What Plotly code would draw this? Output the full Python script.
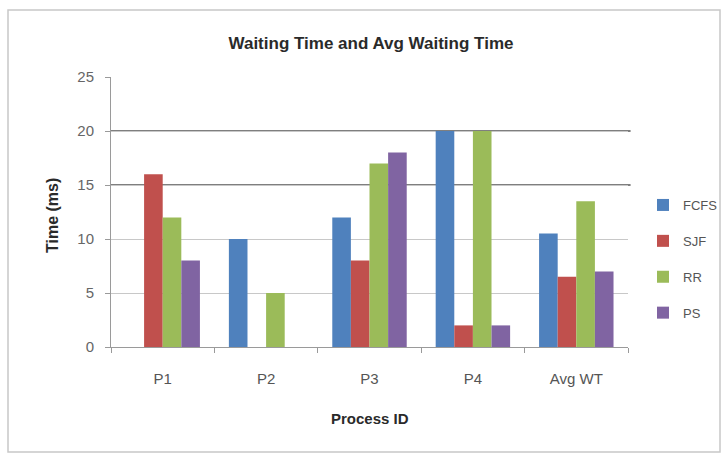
import plotly.graph_objects as go

categories = ["P1", "P2", "P3", "P4", "Avg WT"]
fcfs = [0, 10, 12, 20, 10.5]
sjf = [16, 0, 8, 2, 6.5]
rr = [12, 5, 17, 20, 13.5]
ps = [8, 0, 18, 2, 7]
series_names = ["FCFS", "SJF", "RR", "PS"]
colors = ["#4F81BD", "#C0504D", "#9BBB59", "#8064A2"]
y_ticks = [0, 5, 10, 15, 20, 25]

W, H = 726, 457
L, R, T, B = 111, 98, 77, 110
pw, ph = W - L - R, H - T - B

def px_x(x):
    return (x - L) / pw

def px_y(y):
    return (H - B - y) / ph

font_family = "Liberation Sans, Arial, sans-serif"

fig = go.Figure()
for name, vals, c in zip(series_names, [fcfs, sjf, rr, ps], colors):
    fig.add_trace(go.Bar(x=categories, y=vals, name=name, marker_color=c,
                         marker_line_width=0, legendgroup=name))

fig.update_layout(
    width=W, height=H,
    margin=dict(l=L, r=R, t=T, b=B, autoexpand=False),
    paper_bgcolor="white", plot_bgcolor="white",
    barmode="group", bargap=0.28, bargroupgap=0,
    font=dict(family=font_family, size=14, color="#444"),
    title=dict(text="<b>Waiting Time and Avg Waiting Time</b>",
               x=371 / W, xanchor="center", y=1 - 43 / H, yanchor="middle",
               font=dict(size=17, color="#2a2a2a", family=font_family)),
    legend=dict(x=px_x(643), xanchor="left", y=px_y(259), yanchor="middle",
                traceorder="grouped", tracegroupgap=16,
                font=dict(size=13, color="#555"), itemwidth=30,
                bgcolor="rgba(0,0,0,0)"),
    showlegend=True,
)

fig.update_yaxes(range=[0, 25], tickvals=y_ticks, showgrid=True,
                 gridcolor="#c8c8c8", gridwidth=1,
                 showline=True, linecolor="#9a9a9a", linewidth=1,
                 ticks="outside", ticklen=5, tickcolor="#9a9a9a",
                 ticklabelstandoff=8,
                 tickfont=dict(size=15, color="#666"), zeroline=False)
fig.update_xaxes(showline=True, linecolor="#9a9a9a", linewidth=1,
                 ticks="outside", ticklen=5, tickcolor="#9a9a9a",
                 tickson="boundaries", ticklabelstandoff=18,
                 tickfont=dict(size=15, color="#555"))

# darker gridlines as in the picture
for yv in [15, 20]:
    fig.add_shape(type="line", xref="paper", yref="y", x0=0, x1=1.005,
                  y0=yv, y1=yv, line=dict(color="#555", width=1.5), layer="below")

# outer chart border
fig.add_shape(type="rect", xref="paper", yref="paper",
              x0=px_x(8), x1=px_x(720), y0=px_y(452), y1=px_y(10),
              line=dict(color="#c8c8c8", width=1.5), layer="below")

fig.add_annotation(text="<b>Time (ms)</b>", xref="paper", yref="paper",
                   x=px_x(52), y=px_y(216), xanchor="center", yanchor="middle",
                   textangle=-90, showarrow=False,
                   font=dict(size=16, color="#2a2a2a"))
fig.add_annotation(text="<b>Process ID</b>", xref="paper", yref="paper",
                   x=px_x(370), y=px_y(418), xanchor="center", yanchor="middle",
                   showarrow=False,
                   font=dict(size=15, color="#2a2a2a"))

fig.write_html("out.html", config={"displayModeBar": False},
               post_script="document.body.style.margin='0';document.body.style.padding='0';")
